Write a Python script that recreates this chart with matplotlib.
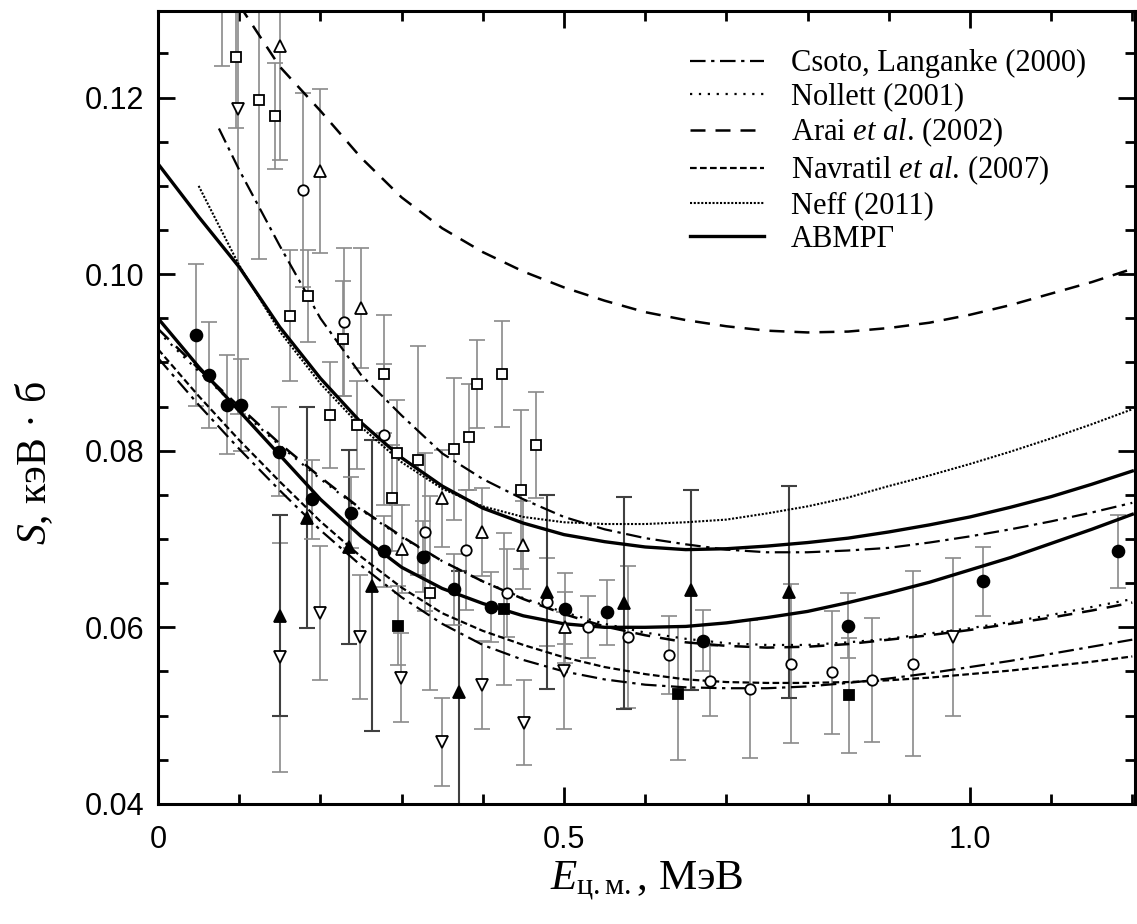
import numpy as np
import matplotlib
matplotlib.use("Agg")
import matplotlib.pyplot as plt
from matplotlib.ticker import MultipleLocator, FixedLocator, FormatStrFormatter

plt.rcParams['font.family'] = ['Liberation Sans', 'DejaVu Sans']
plt.rcParams['mathtext.fontset'] = 'custom'
plt.rcParams['mathtext.rm'] = 'Liberation Serif'
plt.rcParams['mathtext.it'] = 'Liberation Serif:italic'

# Theory curves (E in MeV, S in keV b)
x_grid = [0, 0.05, 0.1, 0.15, 0.2, 0.25, 0.3, 0.35, 0.4, 0.45, 0.5, 0.55, 0.6, 0.65, 0.7,
          0.75, 0.8, 0.85, 0.9, 0.95, 1.0, 1.05, 1.1, 1.15, 1.2]

avmrg_up = [0.1125, 0.1065, 0.1008, 0.0940, 0.0882, 0.0832, 0.0792, 0.0760, 0.0735, 0.0718, 0.0705,
            0.0697, 0.0691, 0.0688, 0.0689, 0.0692, 0.0696, 0.0701, 0.0708, 0.0716, 0.0725, 0.0736,
            0.0748, 0.0762, 0.0777]
avmrg_low = [0.0950, 0.0895, 0.0845, 0.0795, 0.0745, 0.0703, 0.0668, 0.0644, 0.0627, 0.0613, 0.0604,
             0.0600, 0.0600, 0.0601, 0.0605, 0.0611, 0.0618, 0.0628, 0.0639, 0.0651, 0.0665, 0.0679,
             0.0695, 0.0711, 0.0728]

csoto_up_x = [0.075, 0.1, 0.125, 0.15, 0.2, 0.25, 0.3, 0.35, 0.4, 0.45, 0.5, 0.55, 0.6, 0.65, 0.7,
              0.75, 0.8, 0.85, 0.9, 0.95, 1.0, 1.05, 1.1, 1.15, 1.2]
csoto_up = [0.1165, 0.1118, 0.1075, 0.1032, 0.0950, 0.0886, 0.0840, 0.0797, 0.0768, 0.0745, 0.0725,
            0.0711, 0.0701, 0.0694, 0.0688, 0.0685, 0.0685, 0.0687, 0.0690, 0.0696, 0.0703, 0.0711,
            0.0720, 0.0730, 0.0741]
csoto_low = [0.0905, 0.0852, 0.0802, 0.0755, 0.0710, 0.0670, 0.0634, 0.0604, 0.0580, 0.0563, 0.0550,
             0.0541, 0.0535, 0.0532, 0.0531, 0.0531, 0.0533, 0.0537, 0.0542, 0.0548, 0.0555, 0.0562,
             0.0570, 0.0578, 0.0586]

arai_up_x = [0.1, 0.15, 0.2, 0.25, 0.3, 0.35, 0.4, 0.45, 0.5, 0.55, 0.6, 0.65, 0.7, 0.75, 0.8,
             0.85, 0.9, 0.95, 1.0, 1.05, 1.1, 1.15, 1.2]
arai_up = [0.1305, 0.1235, 0.1185, 0.1132, 0.1087, 0.1052, 0.1025, 0.1003, 0.0985, 0.0970, 0.0957,
           0.0948, 0.0941, 0.0936, 0.0934, 0.0935, 0.0939, 0.0945, 0.0954, 0.0965, 0.0978, 0.0991,
           0.1006]
arai_low = [0.0938, 0.0893, 0.0850, 0.0808, 0.0770, 0.0734, 0.0703, 0.0675, 0.0652, 0.0632, 0.0615,
            0.0601, 0.0591, 0.0583, 0.0579, 0.0577, 0.0578, 0.0581, 0.0586, 0.0591, 0.0597, 0.0604,
            0.0611, 0.0619, 0.0628]

nollett = [0.0935, 0.0890, 0.0847, 0.0806, 0.0768, 0.0733, 0.0702, 0.0675, 0.0652, 0.0633, 0.0617,
           0.0604, 0.0594, 0.0587, 0.0582, 0.0580, 0.0580, 0.0583, 0.0587, 0.0593, 0.0599, 0.0606,
           0.0614, 0.0623, 0.0632]

navratil = [0.0915, 0.0862, 0.0812, 0.0765, 0.0720, 0.0680, 0.0645, 0.0616, 0.0596, 0.0580, 0.0566,
            0.0555, 0.0547, 0.0541, 0.0538, 0.0537, 0.0537, 0.0538, 0.0540, 0.0543, 0.0547, 0.0551,
            0.0556, 0.0561, 0.0567]

neff_x = [0.05, 0.075, 0.1, 0.15, 0.2, 0.25, 0.3, 0.35, 0.4, 0.45, 0.5, 0.55, 0.6, 0.65, 0.7,
          0.75, 0.8, 0.85, 0.9, 0.95, 1.0, 1.05, 1.1, 1.15, 1.2]
neff = [0.1100, 0.1055, 0.1010, 0.0935, 0.0876, 0.0827, 0.0787, 0.0757, 0.0737, 0.0725, 0.0719,
        0.0717, 0.0717, 0.0719, 0.0722, 0.0729, 0.0737, 0.0747, 0.0760, 0.0772, 0.0785, 0.0799,
        0.0814, 0.0830, 0.0847]

# Experimental points: x, y, error
fc_x = [0.047, 0.063, 0.085, 0.102, 0.149, 0.190, 0.238, 0.278, 0.326, 0.365, 0.410, 0.501, 0.553, 0.671, 0.850, 1.016, 1.183]
fc_y = [0.0931, 0.0886, 0.0852, 0.0852, 0.0799, 0.0745, 0.0730, 0.0686, 0.0680, 0.0643, 0.0623, 0.0621, 0.0617, 0.0585, 0.0602, 0.0652, 0.0686]
fc_e = [0.0080, 0.0060, 0.0056, 0.0052, 0.0050, 0.0045, 0.0040, 0.0040, 0.0040, 0.0040, 0.0040, 0.0040, 0.0037, 0.0035, 0.0037, 0.0039, 0.0041]

oc_x = [0.179, 0.229, 0.278, 0.329, 0.379, 0.430, 0.479, 0.530, 0.579, 0.629, 0.680, 0.729, 0.780, 0.830, 0.879, 0.930]
oc_y = [0.1095, 0.0946, 0.0818, 0.0708, 0.0688, 0.0639, 0.0629, 0.0600, 0.0589, 0.0569, 0.0539, 0.0530, 0.0559, 0.0549, 0.0540, 0.0559]
oc_e = [0.0110, 0.0084, 0.0080, 0.0090, 0.0068, 0.0050, 0.0050, 0.0035, 0.0080, 0.0044, 0.0040, 0.0078, 0.0090, 0.0070, 0.0070, 0.0105]

os_x = [0.079, 0.096, 0.124, 0.144, 0.163, 0.185, 0.212, 0.228, 0.245, 0.278, 0.288, 0.294, 0.320, 0.335, 0.365, 0.383, 0.393, 0.424, 0.447, 0.465]
os_y = [0.1360, 0.1246, 0.1197, 0.1179, 0.0953, 0.0975, 0.0841, 0.0927, 0.0829, 0.0887, 0.0747, 0.0798, 0.0789, 0.0639, 0.0802, 0.0816, 0.0876, 0.0887, 0.0756, 0.0806]
os_e = [0.0124, 0.0080, 0.0180, 0.0060, 0.0074, 0.0052, 0.0060, 0.0065, 0.0050, 0.0067, 0.0060, 0.0060, 0.0130, 0.0110, 0.0080, 0.0060, 0.0050, 0.0060, 0.0090, 0.0060]

fs_x = [0.296, 0.426, 0.640, 0.851]
fs_y = [0.0602, 0.0621, 0.0525, 0.0523]
fs_e = [0.0045, 0.0086, 0.0075, 0.0065]

ot_x = [0.150, 0.200, 0.250, 0.300, 0.350, 0.399, 0.450, 0.501]
ot_y = [0.1259, 0.1117, 0.0962, 0.0689, 0.0746, 0.0708, 0.0693, 0.0600]
ot_e = [0.0130, 0.0093, 0.0068, 0.0050, 0.0055, 0.0050, 0.0050, 0.0040]

ft_x = [0.150, 0.183, 0.235, 0.263, 0.371, 0.479, 0.574, 0.657, 0.777]
ft_y = [0.0613, 0.0724, 0.0691, 0.0647, 0.0527, 0.0640, 0.0628, 0.0642, 0.0640]
ft_e = [0.0114, 0.0125, 0.0110, 0.0165, 0.0137, 0.0110, 0.0120, 0.0113, 0.0120]

dt_x = [0.099, 0.150, 0.200, 0.249, 0.299, 0.350, 0.399, 0.451, 0.500, 0.979]
dt_y = [0.1187, 0.0566, 0.0616, 0.0589, 0.0543, 0.0470, 0.0535, 0.0492, 0.0551, 0.0589]
dt_e = [0.0345, 0.0130, 0.0076, 0.0070, 0.0050, 0.0050, 0.0050, 0.0048, 0.0066, 0.0090]

legend_labels = ['Csoto, Langanke (2000)', 'Nollett (2001)', r'Arai $et$ $al$. (2002)',
                 r'Navratil $et$ $al$. (2007)', 'Neff (2011)', 'АВМРГ']

fig = plt.figure(figsize=(11.37, 9.24), dpi=100)
ax = fig.add_axes([0.139, 0.130, 0.859, 0.858])

# error bars + markers
gray = '#8a8a8a'
def draw(xs, ys, es, marker, face, ms, ecol=gray, elw=1.2):
    ax.errorbar(xs, ys, yerr=es, fmt='none', ecolor=ecol, elinewidth=elw,
                capsize=6, capthick=elw, zorder=2)
    ax.plot(xs, ys, linestyle='none', marker=marker, ms=ms, mfc=face,
            mec='black', mew=1.3, zorder=5)

draw(os_x, os_y, os_e, 's', 'white', 7)
draw(oc_x, oc_y, oc_e, 'o', 'white', 7.5)
draw(ot_x, ot_y, ot_e, '^', 'white', 9)
draw(dt_x, dt_y, dt_e, 'v', 'white', 9)
draw(ft_x, ft_y, ft_e, '^', 'black', 9, ecol='#404040', elw=1.5)
draw(fs_x, fs_y, fs_e, 's', 'black', 7)
draw(fc_x, fc_y, fc_e, 'o', 'black', 8.5)

# theory curves
lw = 1.6
dd = (7, 2.5, 1.5, 2.5)
l1, = ax.plot(csoto_up_x, csoto_up, color='black', lw=lw, dashes=dd, zorder=3)
ax.plot(x_grid, csoto_low, color='black', lw=lw, dashes=dd, zorder=3)
l2, = ax.plot(x_grid, nollett, color='black', lw=lw, dashes=(1, 3), zorder=3)
l3, = ax.plot(arai_up_x, arai_up, color='black', lw=1.8, dashes=(6, 4), zorder=3)
ax.plot(x_grid, arai_low, color='black', lw=1.8, dashes=(6, 4), zorder=3)
l4, = ax.plot(x_grid, navratil, color='black', lw=lw, dashes=(3, 1.5), zorder=3)
l5, = ax.plot(neff_x, neff, color='black', lw=1.5, dashes=(1, 0.8), zorder=3)
l6, = ax.plot(x_grid, avmrg_up, color='black', lw=2.4, zorder=4)
ax.plot(x_grid, avmrg_low, color='black', lw=2.4, zorder=4)

ax.set_xlim(0, 1.203)
ax.set_ylim(0.04, 0.1298)

ax.xaxis.set_major_locator(FixedLocator([0, 0.5, 1.0]))
ax.xaxis.set_minor_locator(MultipleLocator(0.1))
ax.set_xticklabels(['0', '0.5', '1.0'])
ax.yaxis.set_major_locator(MultipleLocator(0.02))
ax.yaxis.set_minor_locator(MultipleLocator(0.005))
ax.yaxis.set_major_formatter(FormatStrFormatter('%.2f'))

ax.tick_params(which='both', direction='in', top=True, right=True, width=2, labelsize=22)
ax.tick_params(which='major', length=12)
ax.tick_params(axis='x', which='major', pad=15)
ax.tick_params(axis='y', which='major', pad=10)
ax.tick_params(which='minor', length=7)
for s in ax.spines.values():
    s.set_linewidth(2.2)

ax.set_ylabel(r'$S$, кэВ · б', family='Liberation Serif', fontsize=30)
ax.yaxis.set_label_coords(-0.105, 0.43)
ax.set_xlabel(r'$E_{\rm ц.м.}$, МэВ', family='Liberation Serif', fontsize=31, labelpad=4)

leg = ax.legend([l1, l2, l3, l4, l5, l6], legend_labels, loc='upper left',
                bbox_to_anchor=(0.545, 0.952), frameon=False, borderpad=0, borderaxespad=0,
                handlelength=2.4, handletextpad=0.9, labelspacing=0.14,
                prop={'family': 'Liberation Serif', 'size': 22})

plt.savefig("out.png", dpi=100)
